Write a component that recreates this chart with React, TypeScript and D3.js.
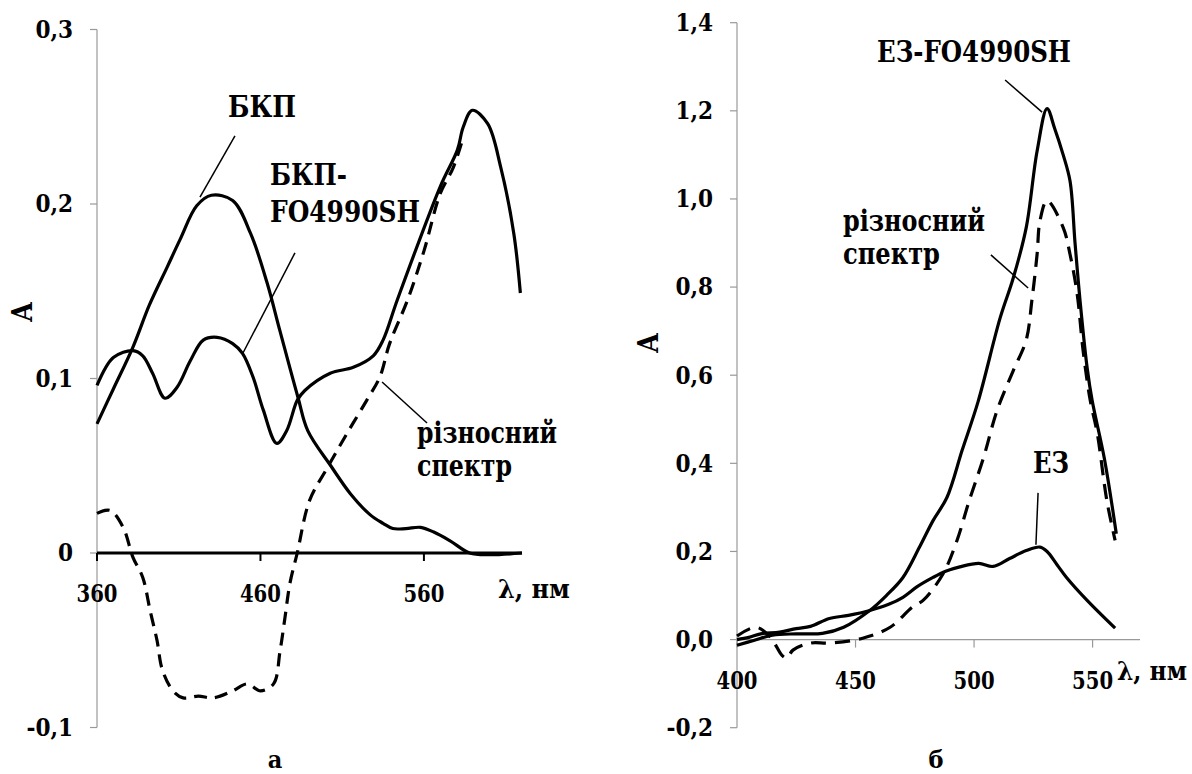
import * as d3 from "d3";

// ---- panel а : БКП ----
const leftTicksX = [360, 460, 560];
const leftTicksY = [-0.1, 0, 0.1, 0.2, 0.3];

const bkpWl = [360, 370, 382, 392, 403, 411, 421, 430, 443, 454, 464, 472, 483, 489, 503, 515, 527, 535, 541, 549, 558, 566, 576, 588, 600, 620];
const bkpA = [0.074, 0.094, 0.118, 0.142, 0.164, 0.18, 0.199, 0.205, 0.202, 0.183, 0.155, 0.127, 0.089, 0.07, 0.05, 0.034, 0.022, 0.017, 0.014, 0.014, 0.0147, 0.012, 0.007, 0.0, -0.001, 0.0];

const bkpFoWl = [360, 370, 382, 388, 394, 401.6, 409, 417, 425, 433.5, 443, 449, 455.5, 461.7, 470, 476, 482.5, 487, 502.7, 516.8, 529, 535, 543.7, 570, 580.5, 584, 589.6, 599, 607, 615, 619];
const bkpFoA = [0.096, 0.112, 0.116, 0.113, 0.103, 0.0887, 0.095, 0.11, 0.122, 0.1236, 0.12, 0.1144, 0.1007, 0.082, 0.0628, 0.07, 0.0875, 0.093, 0.103, 0.1064, 0.113, 0.122, 0.145, 0.21, 0.231, 0.244, 0.2537, 0.246, 0.221, 0.183, 0.149];

const diffLWl = [360, 368, 376, 382, 388, 392.5, 396.7, 400, 406.5, 412.7, 422, 431, 443, 452, 460, 468, 472, 475, 478, 482.5, 490, 501, 513, 525, 533, 539, 550, 560, 570, 578, 584];
const diffLA = [0.0227, 0.0244, 0.0147, -0.0025, -0.014, -0.033, -0.05, -0.067, -0.079, -0.083, -0.082, -0.083, -0.079, -0.075, -0.079, -0.075, -0.056, -0.037, -0.0175, 0.0, 0.03, 0.049, 0.0686, 0.0875, 0.1008, 0.12, 0.145, 0.173, 0.206, 0.221, 0.238];

// ---- panel б : ЕЗ ----
const rightTicksX = [400, 450, 500, 550];
const rightTicksY = [-0.2, 0, 0.2, 0.4, 0.6, 0.8, 1.0, 1.2, 1.4];

const ezFoWl = [400, 407, 415, 425, 436, 445, 456, 463, 470, 477, 482.7, 488.6, 495, 501.7, 511, 516.5, 522, 526.6, 530.8, 534, 537.6, 540.5, 542.6, 544.7, 547.7, 549.8, 555, 560];
const ezFoA = [-0.013, -0.002, 0.01, 0.013, 0.014, 0.028, 0.066, 0.1, 0.141, 0.21, 0.27, 0.323, 0.43, 0.54, 0.73, 0.82, 0.935, 1.109, 1.205, 1.16, 1.1, 1.04, 0.9, 0.77, 0.617, 0.543, 0.41, 0.24];

const diffRWl = [400, 408, 414, 419, 421, 423.6, 431, 439, 453, 464.6, 474, 478.5, 487, 492.8, 498, 504, 509.7, 516.5, 522, 524.4, 526.6, 527.8, 530.8, 537.6, 540.5, 543.5, 546, 549, 552, 556, 559.5];
const diffRA = [0.008, 0.028, 0.006, -0.036, -0.042, -0.024, -0.008, -0.008, 0.003, 0.028, 0.074, 0.089, 0.15, 0.225, 0.316, 0.413, 0.52, 0.61, 0.68, 0.77, 0.875, 0.95, 0.996, 0.935, 0.874, 0.784, 0.656, 0.543, 0.467, 0.316, 0.225];

const ezWl = [400, 405, 410, 418, 425, 431, 439, 447, 456, 464, 470, 476, 482.7, 488, 494, 502, 508, 515, 522, 527.8, 530.8, 535, 539, 547.7, 559.5];
const ezA = [0.0, 0.005, 0.013, 0.017, 0.025, 0.03, 0.048, 0.055, 0.066, 0.08, 0.096, 0.12, 0.141, 0.155, 0.165, 0.173, 0.166, 0.184, 0.202, 0.21, 0.2, 0.17, 0.141, 0.089, 0.026];

const FONT = "'DejaVu Serif Condensed', 'DejaVu Serif', serif";

const zip = (wl: number[], a: number[]) => wl.map((w, i) => [w, a[i]] as [number, number]);

export default function App() {
  const xL = d3.scaleLinear().domain([360, 620]).range([97, 522]);
  const yL = d3.scaleLinear().domain([-0.1, 0.3]).range([727.5, 29.5]);
  const xR = d3.scaleLinear().domain([400, 570]).range([737, 1140]);
  const yR = d3.scaleLinear().domain([-0.2, 1.4]).range([727.7, 22.7]);

  const lineL = d3
    .line<[number, number]>()
    .x((d) => xL(d[0]))
    .y((d) => yL(d[1]))
    .curve(d3.curveCatmullRom.alpha(0.5));
  const lineR = d3
    .line<[number, number]>()
    .x((d) => xR(d[0]))
    .y((d) => yR(d[1]))
    .curve(d3.curveCatmullRom.alpha(0.5));

  const fmt = (v: number) => d3.format(".1f")(v).replace("−", "-").replace(".", ",");
  const fmtL = (v: number) => (v === 0 ? "0" : fmt(v));

  // leader lines in data units: [wl1, a1, wl2, a2]
  const leadersL = [
    [444.4, 0.239, 423, 0.204],
    [481.1, 0.172, 449.3, 0.1146],
    [534.4, 0.098, 561.9, 0.0745],
  ];
  const leadersR = [
    [513.1, 1.27, 528.7, 1.197],
    [507.1, 0.873, 522.8, 0.798],
    [527, 0.333, 526.1, 0.215],
  ];

  const ts = { fontFamily: FONT, fontWeight: 700 };

  const Label = ({ x, y, w, t }: { x: number; y: number; w: number; t: string }) => (
    <text x={x} y={y} fontSize={29} style={ts} textLength={w} lengthAdjust="spacingAndGlyphs">
      {t}
    </text>
  );

  return (
    <svg width={1192} height={774} style={{ position: "absolute", left: 0, top: 0, background: "white", fontFamily: FONT }}>
      {/* ---------- left panel ---------- */}
      <line x1={xL(360)} x2={xL(360)} y1={yL(0.3)} y2={yL(-0.1)} stroke="#999" strokeWidth={1.2} />
      {leftTicksY.map((t) => (
        <g key={"ly" + t}>
          <line x1={xL(360) - 7} x2={xL(360)} y1={yL(t)} y2={yL(t)} stroke="#999" strokeWidth={1.2} />
          <text x={xL(360) - 24} y={yL(t)} dy="0.35em" textAnchor="end" fontSize={24} style={ts}>
            {fmtL(t)}
          </text>
        </g>
      ))}
      <line x1={xL(360)} x2={xL(620)} y1={yL(0)} y2={yL(0)} stroke="#000" strokeWidth={3} />
      {leftTicksX.map((t) => (
        <g key={"lx" + t}>
          <line x1={xL(t)} x2={xL(t)} y1={yL(0)} y2={yL(0) + 8} stroke="#000" strokeWidth={2} />
          <text x={xL(t)} y={yL(0) + 49} textAnchor="middle" fontSize={24} style={ts} textLength={41} lengthAdjust="spacingAndGlyphs">
            {t}
          </text>
        </g>
      ))}
      <text x={498} y={598} fontSize={26} style={ts} textLength={72} lengthAdjust="spacingAndGlyphs">λ, нм</text>
      <text transform={`translate(32,312) rotate(-90)`} textAnchor="middle" fontSize={28} style={ts}>A</text>

      <path d={lineL(zip(bkpWl, bkpA)) || ""} fill="none" stroke="#000" strokeWidth={3.2} />
      <path d={lineL(zip(bkpFoWl, bkpFoA)) || ""} fill="none" stroke="#000" strokeWidth={3.2} />
      <path d={lineL(zip(diffLWl, diffLA)) || ""} fill="none" stroke="#000" strokeWidth={3.2} strokeDasharray="13 8" />

      {leadersL.map((l, i) => (
        <line key={"ll" + i} x1={xL(l[0])} y1={yL(l[1])} x2={xL(l[2])} y2={yL(l[3])} stroke="#000" strokeWidth={1.5} />
      ))}
      <Label x={228} y={117} w={68} t="БКП" />
      <Label x={270} y={185} w={77} t="БКП-" />
      <Label x={270} y={222} w={150} t="FO4990SH" />
      <Label x={417} y={443} w={140} t="різносний" />
      <Label x={417} y={476} w={95} t="спектр" />
      <text x={275} y={768} textAnchor="middle" fontSize={25} style={ts}>а</text>

      {/* ---------- right panel ---------- */}
      <line x1={xR(400)} x2={xR(400)} y1={yR(1.4)} y2={yR(-0.2)} stroke="#999" strokeWidth={1.2} />
      {rightTicksY.map((t) => (
        <g key={"ry" + t}>
          <line x1={xR(400) - 7} x2={xR(400)} y1={yR(t)} y2={yR(t)} stroke="#999" strokeWidth={1.2} />
          <text x={xR(400) - 24} y={yR(t)} dy="0.35em" textAnchor="end" fontSize={24} style={ts}>
            {fmt(t)}
          </text>
        </g>
      ))}
      <line x1={xR(400)} x2={xR(570)} y1={yR(0)} y2={yR(0)} stroke="#999" strokeWidth={1.2} />
      {rightTicksX.map((t) => (
        <g key={"rx" + t}>
          <line x1={xR(t)} x2={xR(t)} y1={yR(0)} y2={yR(0) + 8} stroke="#999" strokeWidth={1.2} />
          <text x={xR(t)} y={yR(0) + 49} textAnchor="middle" fontSize={24} style={ts} textLength={41} lengthAdjust="spacingAndGlyphs">
            {t}
          </text>
        </g>
      ))}
      <text x={1117} y={680} fontSize={26} style={ts} textLength={70} lengthAdjust="spacingAndGlyphs">λ, нм</text>
      <text transform={`translate(658,343) rotate(-90)`} textAnchor="middle" fontSize={28} style={ts}>A</text>

      <path d={lineR(zip(ezFoWl, ezFoA)) || ""} fill="none" stroke="#000" strokeWidth={3.2} />
      <path d={lineR(zip(ezWl, ezA)) || ""} fill="none" stroke="#000" strokeWidth={3.2} />
      <path d={lineR(zip(diffRWl, diffRA)) || ""} fill="none" stroke="#000" strokeWidth={3.2} strokeDasharray="15 9" />

      {leadersR.map((l, i) => (
        <line key={"rl" + i} x1={xR(l[0])} y1={yR(l[1])} x2={xR(l[2])} y2={yR(l[3])} stroke="#000" strokeWidth={1.5} />
      ))}
      <Label x={877} y={62} w={194} t="ЕЗ-FO4990SH" />
      <Label x={843} y={231} w={142} t="різносний" />
      <Label x={843} y={264} w={97} t="спектр" />
      <Label x={1033} y={473} w={36} t="ЕЗ" />
      <text x={936} y={768} textAnchor="middle" fontSize={25} style={ts}>б</text>
    </svg>
  );
}
